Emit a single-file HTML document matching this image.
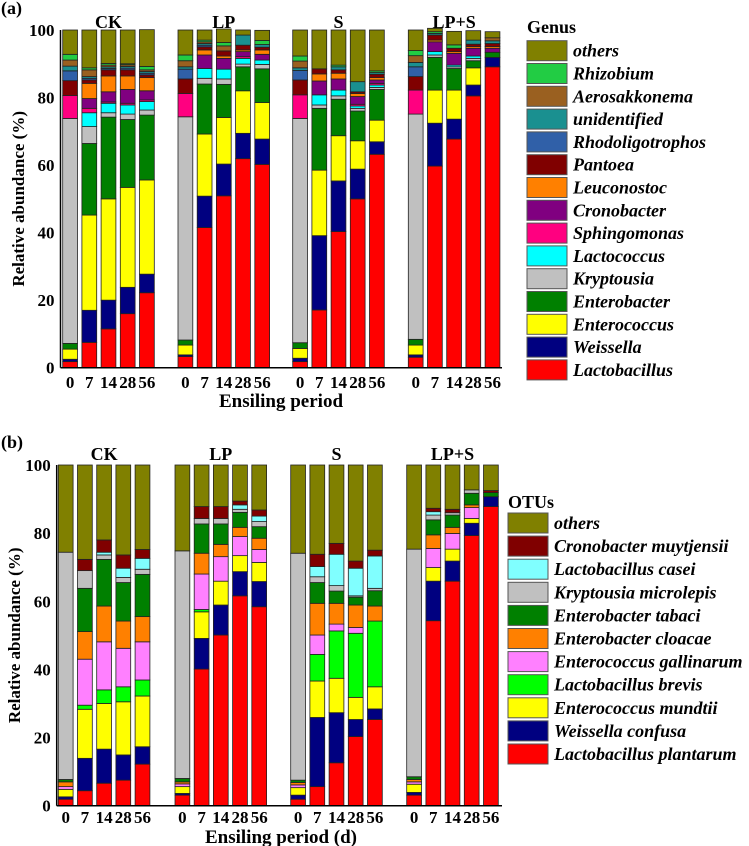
<!DOCTYPE html>
<html><head><meta charset="utf-8"><style>
html,body{margin:0;padding:0;background:#fff;}
svg{display:block;font-family:"Liberation Serif","DejaVu Serif",serif;font-weight:bold;}
svg text{font-family:"Liberation Serif","DejaVu Serif","Times New Roman",serif;font-weight:bold;}
</style></head><body>
<svg id="chart" width="749" height="846" viewBox="0 0 749 846" xmlns="http://www.w3.org/2000/svg"></svg>
<script>
// ---------- data ----------
const groups = ["CK","LP","S","LP+S"];
const days = ["0","7","14","28","56"];
const yTicks = [0,20,40,60,80,100];
// Panel (a) genus names (bottom to top)
const genusNames = ["Lactobacillus","Weissella","Enterococcus","Enterobacter","Kryptousia","Lactococcus","Sphingomonas","Cronobacter","Leuconostoc","Pantoea","Rhodoligotrophos","unidentified","Aerosakkonema","Rhizobium","others"];
const genusColors = ["#ff0000","#000080","#ffff00","#008000","#c0c0c0","#00ffff","#ff0080","#800080","#ff8000","#800000","#3060a8","#1a9090","#9a6020","#22cc44","#808000"];
const genusCK = [
 [1.8,0.7,3.0,1.7,66.6,0,6.8,0,0,4.4,2.9,1.4,1.8,1.7,7.2],
 [7.5,9.5,28.2,21.2,5.0,4.1,1.3,2.9,4.5,1.0,0.5,0.5,2.0,0.6,11.2],
 [11.5,8.5,30,24.2,1.3,2.8,0.4,3.0,4.7,1.8,0.4,0.5,0.5,0.5,9.9],
 [16,7.8,29.6,20.1,1.6,2.7,0.5,4.1,4.0,1.8,0.5,0.5,0.5,0.3,10],
 [22.2,5.5,27.9,19.2,1.5,2.5,0.5,2.7,3.9,0.8,0.5,0.5,0.5,1.0,10.9]];
const genusLP = [
 [3.3,0.5,2.9,1.5,66.1,0,6.9,0,0,4.3,2.9,0.7,1.8,1.7,7.4],
 [41.5,9.3,18.4,14.8,1.7,2.9,0,4.0,1.5,0.9,0.5,0.5,0.5,0.5,3],
 [50.9,9.4,13.8,9.8,1.6,2.9,0,3.2,0.7,1.5,0,0,1.5,1.0,4],
 [61.9,7.5,12.6,7.1,0.8,1.7,0.5,1.5,0.5,1.4,0,3.0,0,0,1.5],
 [60.2,7.5,10.8,10,1.3,1.3,0,1.7,1.3,0.8,0,0.8,0,1.2,3]];
const genusS = [
 [1.8,1.0,2.9,1.7,66.4,0,7.0,0,0,4.4,2.8,0.8,2.0,1.5,7.7],
 [17.1,22,19.4,18.3,1.0,3.0,0,4.1,2.1,1.5,0,0,0,0,11.5],
 [40.3,15,13.4,10.8,1.0,1.7,0,3.3,1.7,1.0,0,0.9,0,0.5,10.4],
 [50,8.8,8.4,8.8,0.8,0.7,0.5,2.3,0.9,0.5,0,3.0,0,0,15.3],
 [63.2,3.7,6.4,9.1,0.6,0.7,0.5,1.0,0.7,1.0,0,0.5,0,0.5,12.1]];
const genusLPS = [
 [3.1,0.7,2.9,1.7,66.7,0,7.1,0,0,4.0,2.9,1.3,2.0,1.5,6.1],
 [59.7,12.7,9.8,9.7,0.7,1.0,0,2.9,0.5,1.5,0,0.5,0,0.5,1],
 [67.7,5.9,8.6,6.4,0.5,0.5,0,3.5,0.5,1.0,0,0,0,1.0,4],
 [80.5,3.2,5.1,2.1,0.7,0.7,0,2.3,0.5,0.7,0,1.2,0,0,2.8],
 [89.1,2.8,0,1.5,0,0,0,1.2,0.5,0.9,0,0.8,0.9,0,1.8]];
// Panel (b) OTU names (bottom to top)
const otuNames = ["Lactobacillus plantarum","Weissella confusa","Enterococcus mundtii","Lactobacillus brevis","Enterococcus gallinarum","Enterobacter cloacae","Enterobacter tabaci","Kryptousia microlepis","Lactobacillus casei","Cronobacter muytjensii","others"];
const otuColors = ["#ff0000","#000080","#ffff00","#00ff00","#ff80ff","#ff8000","#008000","#c0c0c0","#80ffff","#800000","#808000"];
const otuCK = [
 [1.9,0.7,2.2,0,0.8,1.4,0.7,66.7,0,0,25.6],
 [4.4,9.5,14.4,1.2,13.5,8.1,12.7,5.2,0,3.3,27.7],
 [6.6,10,13.4,4,14.1,10.5,13.7,1.3,0.8,3.6,22],
 [7.5,7.4,15.6,4.4,11.3,8,11.3,1.5,2.7,3.9,26.4],
 [12.2,5.1,14.9,4.7,11.2,7.4,12.4,1.5,3.2,2.6,24.8]];
const otuLP = [
 [3.1,0.5,2.0,0,0.8,0.6,1.0,66.8,0,0,25.2],
 [40.1,9,7.8,0.7,10.4,6.1,8.6,1.6,0,3.5,12.2],
 [50.1,8.8,7,0,7.2,3.6,6,1.6,0,3.5,12.2],
 [61.6,7.1,4.7,0,5.6,2.7,4.4,0.9,1.3,1.1,10.6],
 [58.4,7.4,5.6,0,3.8,3.3,3.4,1.5,1.6,1.8,13.2]];
const otuS = [
 [1.9,1.2,2.2,0,0.8,0.7,0.7,66.6,0,0,25.9],
 [5.6,20.3,10.7,7.8,5.7,9.3,6.1,1.7,3.0,3.6,26.2],
 [12.6,14.7,10.1,13.9,2,6.1,3.6,1.6,9.2,3.2,23],
 [20.3,5,6.5,18.8,1.7,6.6,2.3,0.4,8.1,2.1,28.2],
 [25.3,3.1,6.5,19.3,0,4.4,4.5,0.7,9.5,1.7,25]];
const otuLPS = [
 [3.1,0.8,2.4,0,0.7,0.7,0.8,66.8,0,0,24.7],
 [54.3,11.6,4,0,5.6,4,4.4,1.4,1,1,12.7],
 [65.9,5.9,3.5,0,4.6,1.8,3.6,0.7,0,1,13],
 [79.3,3.6,1.4,0,3.2,0.8,3.4,1.0,0,0,7.3],
 [87.8,2.9,0,0,0,0,1.2,0,0,0.6,7.5]];

// ---------- drawing ----------
const NS="http://www.w3.org/2000/svg";
const svg=document.getElementById('chart');
const FF='"Liberation Serif","DejaVu Serif","Times New Roman",serif';
function mk(tag,attrs,parent){const e=document.createElementNS(NS,tag);for(const k in attrs)e.setAttribute(k,attrs[k]);(parent||svg).appendChild(e);return e;}
function txt(s,attrs,parent){attrs['font-family']=FF;attrs['font-weight']='bold';const e=mk('text',attrs,parent);e.textContent=s;return e;}

function panel(cfg){
  const g=mk('g',{});
  
  
  const y=v=>cfg.y0-v*(cfg.y0-cfg.y100)/100;
  const pitch=19.2,bw=14.8;
  const bx=(gi,i)=>cfg.gx[gi]+i*pitch;
  const pl=txt(cfg.label,{x:1,y:cfg.labelY,'font-size':18},g);
  
  
  cfg.data.forEach((grp,gi)=>{
    const gt=txt(groups[gi],{x:bx(gi,2)+bw/2,y:cfg.titleY,'font-size':18,'text-anchor':'middle'},g);
    
    
    grp.forEach((vals,i)=>{
      let cum=0;
      vals.forEach((v,k)=>{
        if(v<=0)return;
        const r=mk('rect',{x:bx(gi,i),y:y(cum+v),width:bw,height:y(cum)-y(cum+v),fill:cfg.colors[k],stroke:'#222','stroke-width':0.8},g);
        
        
        cum+=v;
      });
      const xl=txt(days[i],{x:bx(gi,i)+bw/2,y:cfg.xlabY,'font-size':17,'text-anchor':'middle'},g);
      
      
    });
  });
  const ya=mk('line',{x1:cfg.ax,y1:y(100),x2:cfg.ax,y2:cfg.y0,stroke:'#000','stroke-width':1.5},g);
  
  
  const xa=mk('line',{x1:cfg.ax,y1:cfg.y0,x2:cfg.xEnd,y2:cfg.y0,stroke:'#000','stroke-width':1.5},g);
  
  
  yTicks.forEach(t=>{
    const tl=txt(String(t),{x:cfg.ax-6,y:y(t)+6,'font-size':17,'text-anchor':'end'},g);
    
    
  });
  const yt=txt('Relative abundance (%)',{x:0,y:0,'font-size':17,'text-anchor':'middle',transform:`translate(${cfg.ytX},${(y(100)+cfg.y0)/2}) rotate(-90)`},g);
  
  
  const xt=txt(cfg.xTitle,{x:281,y:cfg.xtY,'font-size':19,'text-anchor':'middle'},g);
  
  
  const lt=txt(cfg.legTitle,{x:cfg.lx,y:cfg.legTitleY,'font-size':18},g);
  
  
  const n=cfg.names.length;
  for(let j=0;j<n;j++){
    const k=n-1-j;
    const cy=cfg.legY0+j*cfg.legStep;
    const lg=mk('g',{},g);
    
    
    mk('rect',{x:cfg.lx,y:cy-10,width:40,height:20,fill:cfg.colors[k],stroke:'#555','stroke-width':1},lg);
    txt(cfg.names[k],{x:cfg.lx+46,y:cy+6,'font-size':18,'font-style':'italic'},lg);
  }
}

panel({name:'panel-a-genus',label:'(a)',labelY:14,data:[genusCK,genusLP,genusS,genusLPS],names:genusNames,colors:genusColors,
  y0:367.7,y100:30,gx:[62.7,178,292.7,408.3],ax:60.5,xEnd:502,titleY:28,xlabY:388,xTitle:'Ensiling period',xtY:407,ytX:24,
  lx:527,legTitle:'Genus',legTitleY:33,legY0:50.7,legStep:22.8});
panel({name:'panel-b-otus',label:'(b)',labelY:448,data:[otuCK,otuLP,otuS,otuLPS],names:otuNames,colors:otuColors,
  y0:805.7,y100:465,gx:[58.3,175,290.7,406.7],ax:56.7,xEnd:502,titleY:460,xlabY:823,xTitle:'Ensiling period (d)',xtY:843,ytX:20,
  lx:508,legTitle:'OTUs',legTitleY:508,legY0:523,legStep:23.1});
</script>
</body></html>
